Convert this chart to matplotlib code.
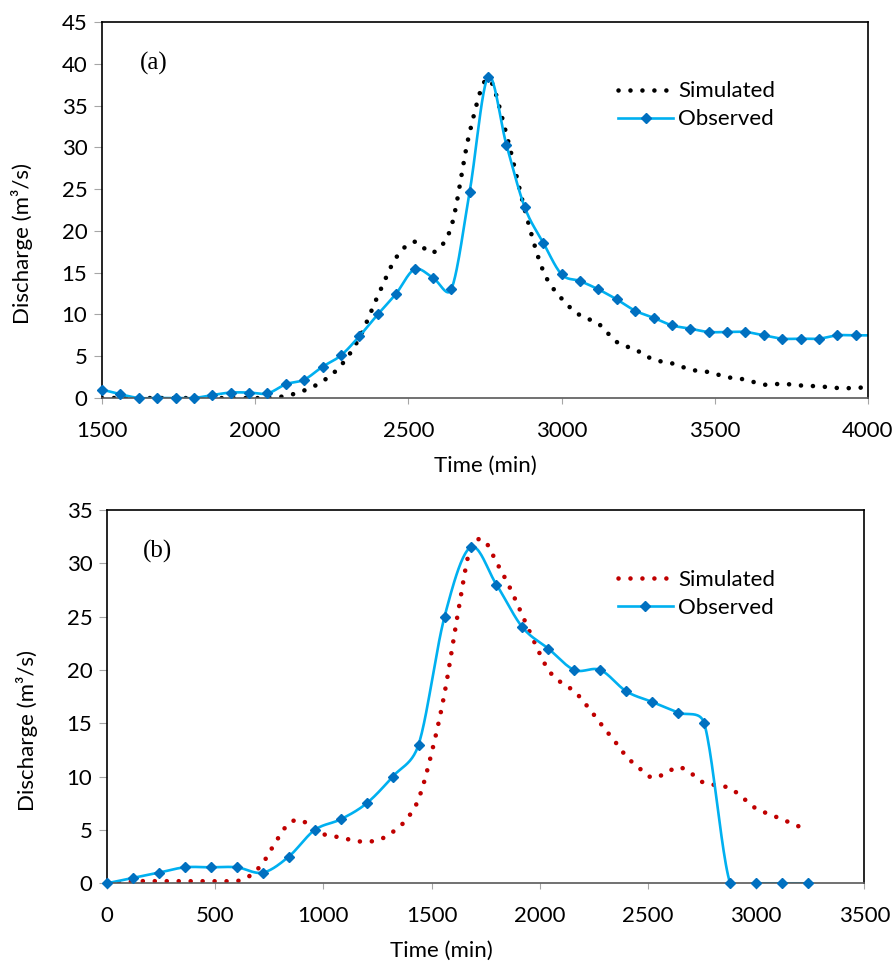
import numpy as np
import matplotlib
matplotlib.use("Agg")
import matplotlib.pyplot as plt

# ---------------------------------------------------------------
# datos
# (a) observado: cada 60 min desde 1500
t_obs_a = [1500, 1560, 1620, 1680, 1740, 1800, 1860, 1920, 1980, 2040,
           2100, 2160, 2220, 2280, 2340, 2400, 2460, 2520, 2580, 2640,
           2700, 2760, 2820, 2880, 2940, 3000, 3060, 3120, 3180, 3240,
           3300, 3360, 3420, 3480, 3540, 3600, 3660, 3720, 3780, 3840,
           3900, 3960, 4020]
q_obs_a = [1.0, 0.45, 0.0, 0.0, 0.0, 0.0, 0.35, 0.65, 0.65, 0.55,
           1.65, 2.2, 3.75, 5.1, 7.4, 10.0, 12.5, 15.4, 14.4, 13.0,
           24.7, 38.4, 30.3, 22.8, 18.6, 14.8, 14.0, 13.0, 11.8, 10.45,
           9.6, 8.7, 8.3, 7.9, 7.9, 7.9, 7.5, 7.1, 7.1, 7.1,
           7.5, 7.5, 7.5]

# (a) simulado
t_sim_a = [1500, 1560, 1620, 1680, 1740, 1800, 1860, 1920, 1980, 2040,
           2100, 2160, 2220, 2280, 2340, 2400, 2460, 2520, 2580, 2640,
           2700, 2760, 2820, 2880, 2940, 3000, 3060, 3120, 3180, 3240,
           3300, 3360, 3420, 3480, 3540, 3600, 3660, 3720, 3780, 3840,
           3900, 3960, 4020]
q_sim_a = [0.0, 0.0, 0.0, 0.0, 0.0, 0.0, 0.0, 0.0, 0.0, 0.0,
           0.25, 0.9, 2.0, 3.9, 7.2, 12.2, 16.8, 18.7, 17.4, 20.5,
           31.8, 38.2, 31.5, 22.5, 15.2, 11.9, 9.9, 8.9, 6.7, 5.8,
           4.6, 4.15, 3.4, 3.1, 2.5, 2.2, 1.6, 1.7, 1.5, 1.4,
           1.2, 1.2, 1.4]

# (b) observado: cada 120 min desde 0
t_obs_b = [0, 120, 240, 360, 480, 600, 720, 840, 960, 1080,
           1200, 1320, 1440, 1560, 1680, 1800, 1920, 2040, 2160, 2280,
           2400, 2520, 2640, 2760, 2880, 3000, 3120, 3240]
q_obs_b = [0.0, 0.5, 1.0, 1.5, 1.5, 1.5, 1.0, 2.5, 5.0, 6.0,
           7.5, 10.0, 13.0, 25.0, 31.5, 28.0, 24.0, 22.0, 20.0, 20.0,
           18.0, 17.0, 16.0, 15.0, 0.0, 0.0, 0.0, 0.0]

# (b) simulado
t_sim_b = [0, 60, 120, 180, 240, 300, 360, 420, 480, 540,
           600, 660, 720, 780, 840, 900, 960, 1020, 1080, 1140,
           1200, 1260, 1320, 1380, 1440, 1500, 1560, 1620, 1680, 1740,
           1800, 1860, 1920, 1980, 2040, 2100, 2160, 2220, 2280, 2340,
           2400, 2460, 2520, 2580, 2640, 2700, 2760, 2820, 2880, 2940,
           3000, 3060, 3120, 3180, 3240]
q_sim_b = [0.0, 0.1, 0.2, 0.2, 0.2, 0.2, 0.2, 0.2, 0.2, 0.2,
           0.2, 0.7, 1.9, 3.9, 5.6, 5.9, 4.9, 4.5, 4.3, 4.0,
           3.9, 4.1, 4.8, 5.9, 7.9, 12.2, 17.8, 25.1, 31.5, 32.2,
           30.1, 27.8, 25.1, 22.4, 20.0, 18.8, 18.0, 16.6, 15.0, 13.5,
           11.9, 10.8, 9.9, 10.3, 10.9, 10.3, 9.4, 9.2, 8.9, 8.0,
           7.0, 6.5, 6.0, 5.5, 4.9]

leyendas = ["Simulated", "Observed"]

FIG_W, FIG_H = 895, 966
rect_a = [102 / FIG_W, 1 - 398 / FIG_H, 766 / FIG_W, 376 / FIG_H]
rect_b = [107 / FIG_W, 1 - 883.3 / FIG_H, 757.3 / FIG_W, 373.3 / FIG_H]


# curva suavizada tipo Excel (Catmull-Rom -> Bezier), calculada en pixeles
def suavizar(x, y, sx, sy, n=24):
    p = np.column_stack([np.asarray(x) * sx, np.asarray(y) * sy]).astype(float)
    p = np.vstack([p[0], p, p[-1]])
    out = []
    for i in range(1, len(p) - 2):
        p0, p1, p2, p3 = p[i - 1], p[i], p[i + 1], p[i + 2]
        seg = np.linalg.norm(p2 - p1)
        h1 = (p2 - p0) / 6
        h2 = (p3 - p1) / 6
        # limita el largo de los tiradores para evitar sobrepicos
        for h in (h1, h2):
            nh = np.linalg.norm(h)
            if nh > 0.5 * seg and nh > 0:
                h *= 0.5 * seg / nh
        c1 = p1 + h1
        c2 = p2 - h2
        s = np.linspace(0, 1, n, endpoint=False)[:, None]
        b = ((1 - s) ** 3) * p1 + 3 * ((1 - s) ** 2) * s * c1 + 3 * (1 - s) * s ** 2 * c2 + s ** 3 * p2
        out.append(b)
    out.append(p[-2][None, :])
    out = np.vstack(out)
    return out[:, 0] / sx, out[:, 1] / sy


plt.rcParams['font.family'] = ['Lato', 'DejaVu Sans']
plt.rcParams['font.size'] = 16

fig = plt.figure(figsize=(FIG_W / 100, FIG_H / 100), dpi=100)
ax1 = fig.add_axes(rect_a)
ax2 = fig.add_axes(rect_b)

azul = "#00B0F0"
azul_marca = "#0070C0"


def dibujar(ax, rect, ts, qs, to, qo, color_sim, xlim, ylim, etiqueta, xlab_x, leg_xy):
    sx = rect[2] * FIG_W / (xlim[1] - xlim[0])
    sy = rect[3] * FIG_H / (ylim[1] - ylim[0])
    xs, ys = suavizar(ts, qs, sx, sy)
    ax.plot(xs, ys, color=color_sim, lw=3.3, linestyle=(0, (0.01, 2.6)),
            dash_capstyle='round', label=leyendas[0])
    xo, yo = suavizar(to, qo, sx, sy)
    ax.plot(xo, yo, color=azul, lw=1.9, solid_capstyle='round')
    # marcadores dentro del rango en x, sin recortar en los bordes
    to = np.asarray(to)
    qo = np.asarray(qo)
    dentro = (to >= xlim[0]) & (to <= xlim[1])
    ax.plot(to[dentro], qo[dentro], linestyle='none', marker='D', ms=5.2,
            color=azul_marca, clip_on=False, zorder=3)
    # entrada de leyenda para observado
    ax.plot([], [], color=azul, lw=1.9, marker='D', ms=5.2, mfc=azul_marca, mec=azul_marca,
            label=leyendas[1])

    ax.set_xlim(*xlim)
    ax.set_ylim(*ylim)
    ax.set_xticks(np.arange(xlim[0], xlim[1] + 1, 500))
    ax.set_yticks(np.arange(0, ylim[1] + 1, 5))
    for s in ax.spines.values():
        s.set_color("black")
        s.set_linewidth(1.2)
    ax.spines['bottom'].set_color("#595959")
    ax.tick_params(axis='x', direction='out', length=4.5, color="#A6A6A6", pad=12, labelsize=16)
    ax.tick_params(axis='y', direction='out', length=5.5, color="#A6A6A6", pad=5, labelsize=16)

    ax.set_xlabel("Time (min)", fontsize=16, va='center')
    ax.xaxis.set_label_coords(xlab_x, -0.18)
    ax.set_ylabel("Discharge (m³/s)", fontsize=16, va='center')
    ax.yaxis.set_label_coords(-0.105, 0.41)

    ax.text(0.067, 0.89, etiqueta, transform=ax.transAxes, fontsize=18,
            family='Liberation Serif', ha='center', va='center')

    ax.legend(loc='upper left', bbox_to_anchor=leg_xy, frameon=False,
              fontsize=16, handlelength=2.45, handletextpad=0.25,
              labelspacing=0.36, borderpad=0, borderaxespad=0, numpoints=1)


dibujar(ax1, rect_a, t_sim_a, q_sim_a, t_obs_a, q_obs_a, "black", (1500, 4000), (0, 45), "(a)",
        0.5, (0.674, 0.842))
dibujar(ax2, rect_b, t_sim_b, q_sim_b, t_obs_b, q_obs_b, "#C00000", (0, 3500), (0, 35), "(b)",
        (441 - 107) / 757.3, (0.675, 0.840))

plt.savefig("out.png", dpi=100)
